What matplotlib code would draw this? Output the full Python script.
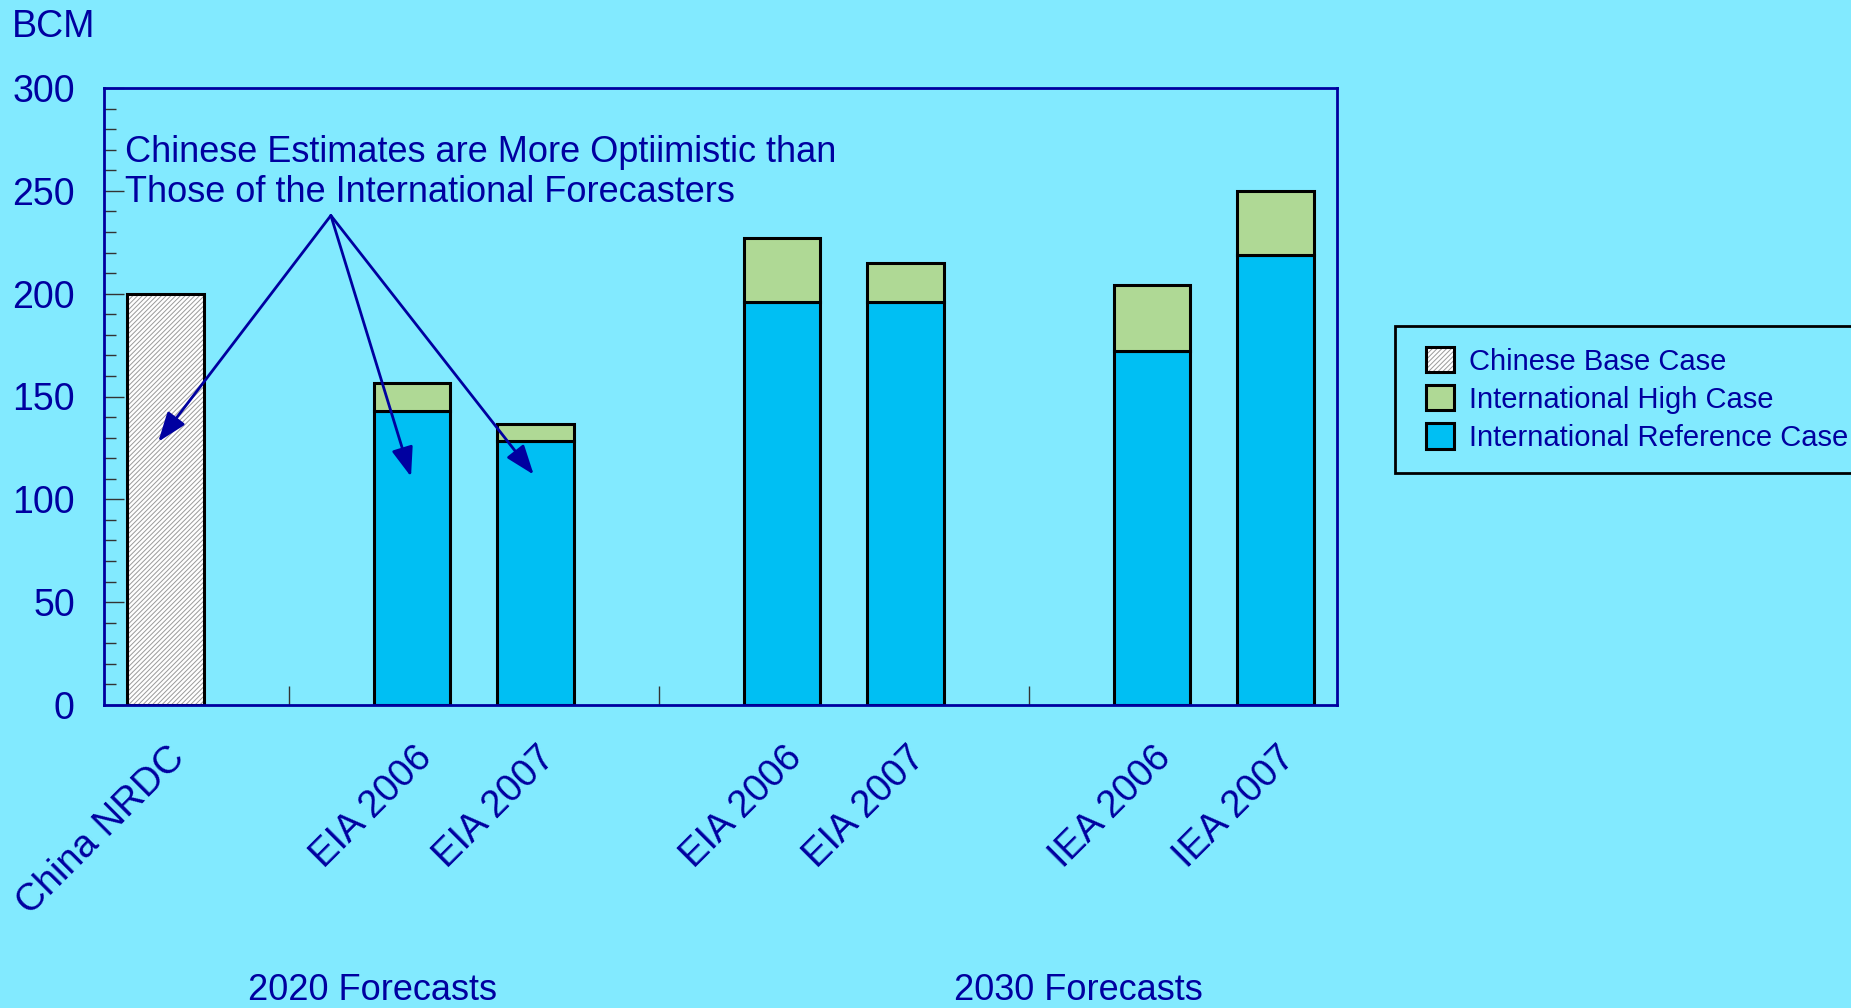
import matplotlib
matplotlib.use("Agg")
import matplotlib.pyplot as plt
import numpy as np
from matplotlib.patches import Rectangle
from matplotlib.ticker import MultipleLocator
from matplotlib.transforms import ScaledTranslation, blended_transform_factory
from matplotlib.legend_handler import HandlerBase

plt.rcParams["font.family"] = ["Liberation Sans", "DejaVu Sans"]
plt.rcParams["hatch.linewidth"] = 0.7

# categories (blank slots are gaps between forecast groups)
labels = ["China NRDC", "", "EIA 2006", "EIA 2007", "", "EIA 2006", "EIA 2007", "", "IEA 2006", "IEA 2007"]
chinese_base = [200, np.nan, np.nan, np.nan, np.nan, np.nan, np.nan, np.nan, np.nan, np.nan]
intl_ref = [np.nan, np.nan, 143, 128.5, np.nan, 196, 196, np.nan, 172, 219]
intl_high = [np.nan, np.nan, 156.5, 136.5, np.nan, 227, 215, np.nan, 204, 250]
groups = ["2020 Forecasts", "2030 Forecasts"]

BG = "#82eaff"
NAVY = "#0000a0"
C_REF = "#00bff3"
C_HIGH = "#afd995"
HATCH = "///////"
HATCH_C = "#9a9a9a"

x = np.arange(len(labels))
base = np.array(chinese_base, float)
ref = np.array(intl_ref, float)
high = np.array(intl_high, float)
w = 0.62

fig = plt.figure(figsize=(18.51, 10.08), dpi=100, facecolor=BG)
ax = fig.add_axes([104/1851, 1-705/1008, 1233/1851, 617/1008], facecolor=BG)

m = ~np.isnan(base)
ax.bar(x[m], base[m], w, facecolor="white", edgecolor=HATCH_C, hatch=HATCH, linewidth=0, zorder=2)
ax.bar(x[m], base[m], w, fill=False, edgecolor="black", linewidth=2.2, zorder=3)
m = ~np.isnan(ref)
ax.bar(x[m], ref[m], w, color=C_REF, edgecolor="black", linewidth=2.2, zorder=2)
ax.bar(x[m], high[m] - ref[m], w, bottom=ref[m], color=C_HIGH, edgecolor="black", linewidth=2.2, zorder=2)

ax.set_xlim(-0.5, 9.5)
ax.set_ylim(0, 300)
ax.yaxis.set_major_locator(MultipleLocator(50))
ax.yaxis.set_minor_locator(MultipleLocator(10))
ax.tick_params(axis="y", which="major", direction="in", length=14.5, width=1, color="#333333",
               labelsize=27, labelcolor=NAVY, pad=21)
ax.tick_params(axis="y", which="minor", direction="in", length=8.5, width=1, color="#333333")
ax.set_xticks(x)
ax.set_xticklabels([])
ax.tick_params(axis="x", direction="in", length=13.5, width=1, color="#333333")

# rotated category labels below the axis
lab_tr = blended_transform_factory(ax.transData, ax.transAxes) + ScaledTranslation(10/72, -34/72, fig.dpi_scale_trans)
for i, lab in enumerate(labels):
    ax.text(x[i], 0, lab, transform=lab_tr, rotation=45, ha="right", va="center",
            rotation_mode="anchor", fontsize=27.5, color=NAVY, clip_on=False)

for s in ax.spines.values():
    s.set_color(NAVY)
    s.set_linewidth(2)
    s.set_zorder(4)

# annotation with three arrows from a common origin
ax.text(0.017, 0.880, "Chinese Estimates are More Optiimistic than", transform=ax.transAxes,
        fontsize=26, color=NAVY, va="baseline")
ax.text(0.017, 0.815, "Those of the International Forecasters", transform=ax.transAxes,
        fontsize=26, color=NAVY, va="baseline")
origin = (1.34, 238)
for tgt in [(-0.06, 128), (1.99, 111), (2.985, 112)]:
    ax.annotate("", xy=tgt, xytext=origin,
                arrowprops=dict(arrowstyle="-|>,head_length=0.6,head_width=0.22", mutation_scale=30,
                                color=NAVY, lw=2, shrinkA=0, shrinkB=0), zorder=5)

fig.text(12/1851, 1-37/1008, "BCM", fontsize=27, color=NAVY, va="baseline")
fig.text(0.201, 1-1000/1008, groups[0], fontsize=26, color=NAVY, ha="center", va="baseline")
fig.text(0.5824, 1-1000/1008, groups[1], fontsize=26, color=NAVY, ha="center", va="baseline")


class SquareHandler(HandlerBase):
    """Square legend key pushed to the right end of the handle box."""
    def __init__(self, shift):
        super().__init__()
        self.shift = shift

    def create_artists(self, legend, orig_handle, xdescent, ydescent, width, height, fontsize, trans):
        parts = orig_handle if isinstance(orig_handle, tuple) else (orig_handle,)
        arts = []
        for h in parts:
            p = Rectangle((self.shift - xdescent, -ydescent), width - self.shift, height)
            p.update_from(h)
            p.set_transform(trans)
            arts.append(p)
        return arts


# legend
h_base = (Rectangle((0, 0), 1, 1, facecolor="white", edgecolor=HATCH_C, hatch=HATCH, linewidth=0),
          Rectangle((0, 0), 1, 1, fill=False, edgecolor="black", linewidth=2.2))
h_high = Rectangle((0, 0), 1, 1, facecolor=C_HIGH, edgecolor="black", linewidth=2.2)
h_ref = Rectangle((0, 0), 1, 1, facecolor=C_REF, edgecolor="black", linewidth=2.2)
hd = SquareHandler(shift=7)
leg = fig.legend([h_base, h_high, h_ref],
                 ["Chinese Base Case", "International High Case", "International Reference Case"],
                 loc="upper left", bbox_to_anchor=(1395/1851, 1-326/1008), fontsize=21,
                 frameon=True, fancybox=False, framealpha=1, facecolor=BG, edgecolor="black",
                 handlelength=1.3, handleheight=0.95, handletextpad=0.5, labelspacing=0.33,
                 borderpad=0.72, borderaxespad=0, handler_map={tuple: hd, Rectangle: hd})
leg.get_frame().set_linewidth(2)
for t in leg.get_texts():
    t.set_color(NAVY)

fig.savefig("out.png", dpi=100, facecolor=BG)
